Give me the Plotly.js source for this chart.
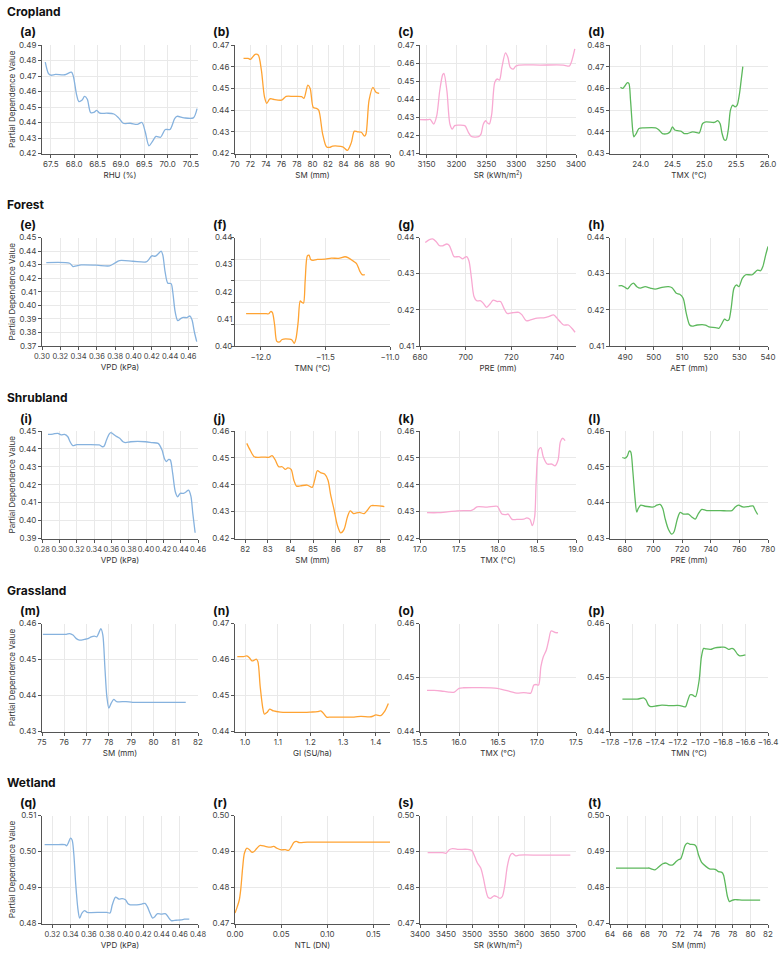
<!DOCTYPE html>
<html><head><meta charset="utf-8">
<script src="https://cdn.plot.ly/plotly-3.0.1.min.js"></script>
<style>html,body{margin:0;padding:0;background:#fff}</style>
</head><body><div id="chart" style="width:781px;height:957px"></div>
<script>
// ---------------- data ----------------
const sections = ['Cropland', 'Forest', 'Shrubland', 'Grassland', 'Wetland'];
const panelLabels = ['(a)','(b)','(c)','(d)','(e)','(f)','(g)','(h)','(i)','(j)','(k)','(l)','(m)','(n)','(o)','(p)','(q)','(r)','(s)','(t)'];
const xTitles = ['RHU (%)','SM (mm)','SR (kWh/m<sup>2</sup>)','TMX (°C)',
                 'VPD (kPa)','TMN (°C)','PRE (mm)','AET (mm)',
                 'VPD (kPa)','SM (mm)','TMX (°C)','PRE (mm)',
                 'SM (mm)','GI (SU/ha)','TMX (°C)','TMN (°C)',
                 'VPD (kPa)','NTL (DN)','SR (kWh/m<sup>2</sup>)','SM (mm)'];
const yTitle = 'Partial Dependence Value';
const cTickVals = [3150, 3200, 3250, 3300, 3350, 3400];
const cTickText = ['3150', '3200', '3250', '3300', '3250', '3400'];
const fTickVals = [0.40, 0.41, 0.42, 0.43, 0.44];
const fGridVals = [0.40, 0.408, 0.416, 0.424, 0.432, 0.44];

const aX = [67.38,67.45,67.5,67.6,67.8,67.94,67.98,68.05,68.1,68.17,68.22,68.28,68.35,68.42,68.48,68.55,68.7,68.85,68.95,69.05,69.2,69.35,69.45,69.52,69.6,69.68,69.75,69.85,69.95,70.05,70.15,70.2,70.35,70.55,70.63];
const aY = [0.479,0.4715,0.4705,0.471,0.4708,0.4725,0.470,0.458,0.4535,0.4545,0.4568,0.455,0.4465,0.4465,0.4478,0.446,0.446,0.4455,0.443,0.4395,0.4395,0.4388,0.440,0.434,0.425,0.428,0.431,0.4305,0.4355,0.4355,0.4425,0.444,0.443,0.443,0.449];

const bX = [71.1,71.7,72.0,72.6,73.0,73.4,73.8,74.1,74.5,74.9,76.0,76.6,77.5,78.6,78.9,79.4,79.7,80.1,80.5,80.8,81.3,81.8,82.2,82.6,83.9,84.5,85.0,85.4,85.8,86.3,86.7,86.9,87.3,87.8,88.2,88.6];
const bY = [0.4638,0.4638,0.4634,0.4657,0.4654,0.4585,0.4462,0.4431,0.4452,0.4450,0.4446,0.4463,0.4463,0.4462,0.4454,0.4515,0.450,0.4412,0.4408,0.440,0.4292,0.4231,0.4228,0.4234,0.4231,0.4214,0.4249,0.4303,0.4300,0.4298,0.428,0.429,0.4446,0.4505,0.4482,0.4477];

const cX = [3139,3153,3156,3162,3167,3172,3177,3179,3184,3189,3193,3197,3203,3214,3220,3225,3237,3241,3245,3249,3252,3255,3259,3264,3268,3272,3276,3282,3286,3290,3295,3299,3304,3340,3379,3385,3389,3393,3398];
const cY = [0.4287,0.4287,0.4289,0.4263,0.4309,0.4447,0.4536,0.4543,0.4447,0.4263,0.4235,0.4254,0.4257,0.4254,0.4217,0.4194,0.4193,0.4207,0.4263,0.4281,0.4268,0.4263,0.4318,0.4493,0.4512,0.4506,0.4576,0.4656,0.4632,0.4576,0.4567,0.4582,0.4589,0.4589,0.4589,0.4584,0.4584,0.4613,0.4678];

const dX = [23.684,23.721,23.753,23.789,23.816,23.842,23.879,23.895,23.932,23.974,24.053,24.237,24.289,24.342,24.421,24.463,24.5,24.537,24.579,24.632,24.684,24.737,24.816,24.868,24.921,24.974,25.026,25.158,25.211,25.247,25.279,25.316,25.342,25.379,25.411,25.447,25.484,25.516,25.553,25.579,25.605];
const dY = [0.4605,0.460,0.4611,0.4626,0.4623,0.4546,0.440,0.4377,0.4392,0.4415,0.4418,0.4418,0.4408,0.4392,0.4392,0.44,0.4423,0.4408,0.4405,0.4403,0.4392,0.4392,0.44,0.4397,0.4395,0.4438,0.4446,0.4443,0.4451,0.4438,0.4392,0.4362,0.4362,0.4415,0.45,0.4523,0.4515,0.4523,0.4577,0.4638,0.47];

const eX = [0.3047,0.3302,0.3338,0.3375,0.3429,0.3593,0.3738,0.3793,0.3847,0.3993,0.4138,0.4164,0.42,0.424,0.4276,0.4302,0.432,0.4345,0.4375,0.4411,0.4429,0.4455,0.4484,0.452,0.4545,0.4582,0.4618,0.464,0.4665,0.4691];
const eY = [0.4315,0.431,0.4286,0.4291,0.4298,0.4296,0.4291,0.431,0.433,0.4325,0.432,0.4335,0.4365,0.4362,0.4384,0.4399,0.4372,0.4249,0.4163,0.416,0.41,0.3953,0.3887,0.3904,0.3911,0.3909,0.3921,0.3892,0.3805,0.3732];

const fX = [-12.114,-11.957,-11.939,-11.924,-11.911,-11.893,-11.876,-11.855,-11.835,-11.779,-11.759,-11.741,-11.728,-11.711,-11.695,-11.683,-11.67,-11.657,-11.64,-11.627,-11.614,-11.596,-11.563,-11.5,-11.454,-11.398,-11.348,-11.322,-11.284,-11.259,-11.234,-11.216,-11.195];
const fY = [0.4119,0.4119,0.4119,0.4127,0.4124,0.4077,0.4017,0.4015,0.4024,0.4025,0.4022,0.401,0.4027,0.4089,0.4166,0.4161,0.4158,0.4239,0.4332,0.4335,0.4319,0.4316,0.4319,0.432,0.4324,0.4323,0.4329,0.4325,0.4313,0.4304,0.4276,0.4263,0.4263];

const gX = [682.3,684.1,685.5,687.0,688.4,689.9,691.7,692.8,693.9,694.9,697.1,698.6,699.6,700.4,701.4,702.5,703.6,704.8,706.5,707.7,709.1,710.6,712.0,713.8,715.2,716.7,718.1,720.3,723.2,724.6,726.4,728.3,731.2,734.1,736.2,738.4,739.9,741.3,742.8,744.9,746.4,747.8];
const gY = [0.4386,0.4394,0.4396,0.4389,0.4378,0.4377,0.4382,0.4378,0.4361,0.4347,0.4347,0.4341,0.4345,0.4347,0.4335,0.4287,0.4237,0.4225,0.4225,0.4218,0.4207,0.4216,0.4227,0.4223,0.4223,0.4204,0.419,0.4192,0.4193,0.4186,0.417,0.4172,0.4177,0.4178,0.4181,0.4186,0.4177,0.4167,0.4158,0.4158,0.4149,0.4138];

const hX = [487.7,488.8,490,490.8,492.0,492.9,494.1,495.3,497.0,498.8,500.5,502.9,505.2,506.4,507.9,509.1,510.3,511.4,512.6,513.4,515.2,518.1,519.3,521.6,522.8,523.6,524.8,525.7,526.3,527.1,528.1,529.0,529.8,531.0,532.2,534.5,536.3,537.4,538.2,539.2,540.0];
const hY = [0.4266,0.4267,0.4262,0.4258,0.4269,0.4274,0.4264,0.426,0.4264,0.426,0.4257,0.4262,0.4264,0.4261,0.4246,0.4243,0.4232,0.419,0.4158,0.4155,0.4158,0.4158,0.4153,0.4151,0.4149,0.4158,0.4174,0.417,0.4172,0.4204,0.426,0.4269,0.4264,0.4287,0.4297,0.4297,0.431,0.4308,0.432,0.4352,0.4375];

const iX = [0.2869,0.2926,0.2983,0.3021,0.306,0.3098,0.3124,0.3155,0.3201,0.3269,0.346,0.3498,0.3518,0.3544,0.3575,0.3594,0.3651,0.3697,0.3735,0.3766,0.3823,0.3995,0.4071,0.414,0.4185,0.4212,0.4235,0.4262,0.4281,0.4308,0.4338,0.4365,0.4395,0.4434,0.4464,0.4491,0.4518,0.454,0.4567];
const iY = [0.4481,0.4483,0.4487,0.4478,0.4481,0.4468,0.444,0.4418,0.4424,0.4424,0.4422,0.4412,0.4416,0.445,0.4483,0.4491,0.4472,0.4459,0.444,0.4435,0.444,0.444,0.4435,0.4431,0.4394,0.4347,0.4329,0.4342,0.4338,0.4263,0.4161,0.4133,0.4152,0.4152,0.4161,0.417,0.4137,0.404,0.3932];

const jX = [82.07,82.22,82.4,82.59,82.81,83.04,83.19,83.33,83.48,83.63,83.78,83.88,84.03,84.15,84.27,84.44,84.74,84.96,85.07,85.19,85.33,85.51,85.66,85.78,85.93,86.07,86.22,86.37,86.52,86.64,86.79,87.04,87.26,87.41,87.56,87.78,88.07,88.15];
const jY = [0.4554,0.4529,0.4504,0.4502,0.4503,0.4502,0.4508,0.4492,0.4467,0.4467,0.4457,0.4463,0.4457,0.4417,0.4395,0.4396,0.4399,0.439,0.4417,0.4452,0.4445,0.444,0.4417,0.4361,0.4306,0.425,0.4221,0.4234,0.4281,0.4303,0.4293,0.4297,0.4293,0.4306,0.4322,0.4322,0.432,0.4319];

const kX = [17.09,17.23,17.35,17.48,17.56,17.65,17.69,17.73,17.86,17.99,18.02,18.05,18.1,18.13,18.18,18.24,18.33,18.37,18.41,18.44,18.47,18.49,18.52,18.55,18.58,18.63,18.69,18.73,18.77,18.8,18.83,18.86];
const kY = [0.4296,0.4296,0.4299,0.4303,0.4304,0.4304,0.4309,0.4318,0.4317,0.432,0.4306,0.4291,0.4289,0.4291,0.4271,0.4271,0.4272,0.4277,0.4271,0.4248,0.4281,0.4417,0.4529,0.4538,0.4504,0.4477,0.4477,0.447,0.4492,0.456,0.4573,0.4564];

const lX = [678.1,680,681.6,683,684,685.4,687,688.2,689.3,691,694,699.9,702.2,704.5,706.4,708,710.4,712.7,714.3,716.7,718.6,720.9,724.4,726.7,729.1,731.4,733.7,737.2,746.6,754.8,757.1,759.4,762.5,766.4,769.5,771.1,772.8];
const lY = [0.4526,0.4524,0.453,0.4544,0.4542,0.4491,0.4412,0.4374,0.4384,0.4393,0.439,0.4388,0.4393,0.4395,0.4384,0.4356,0.4325,0.4312,0.4319,0.4356,0.4373,0.4368,0.4368,0.436,0.4354,0.437,0.4381,0.4378,0.4378,0.4378,0.4388,0.4393,0.4388,0.4389,0.4391,0.4379,0.4367];

const mX = [75.04,75.49,76.09,76.24,76.39,76.54,76.68,76.91,77.06,77.21,77.35,77.46,77.55,77.64,77.73,77.82,77.91,78.0,78.1,78.22,78.35,78.77,79.07,80.26,81.45];
const mY = [0.457,0.457,0.457,0.4572,0.4568,0.4558,0.4554,0.4556,0.4558,0.4563,0.4565,0.4563,0.4574,0.4586,0.4568,0.448,0.4397,0.4365,0.4378,0.4389,0.4383,0.4383,0.4381,0.4381,0.4381];

const nX = [0.976,0.995,1.005,1.013,1.021,1.028,1.034,1.039,1.046,1.054,1.059,1.067,1.075,1.087,1.108,1.169,1.2,1.221,1.231,1.239,1.249,1.262,1.333,1.354,1.385,1.4,1.415,1.426,1.438];
const nY = [0.4608,0.4608,0.461,0.4605,0.4596,0.4598,0.4601,0.4594,0.4525,0.4465,0.4448,0.4453,0.4462,0.4457,0.4454,0.4453,0.4454,0.4455,0.4457,0.4451,0.444,0.444,0.444,0.4442,0.4441,0.4446,0.4444,0.4455,0.4478];

const oX = [15.59,15.68,15.77,15.87,15.94,16.0,16.06,16.49,16.57,16.66,16.74,16.83,16.89,16.92,16.96,16.99,17.02,17.05,17.08,17.12,17.15,17.18,17.21,17.24,17.27];
const oY = [0.4476,0.4476,0.4475,0.4473,0.4473,0.448,0.4481,0.448,0.4477,0.4474,0.4471,0.4472,0.4471,0.4471,0.4486,0.4487,0.4486,0.452,0.4538,0.4551,0.4569,0.4586,0.4585,0.4583,0.4583];

const pX = [-17.69,-17.56,-17.5,-17.48,-17.46,-17.44,-17.4,-17.34,-17.27,-17.18,-17.15,-17.13,-17.11,-17.09,-17.07,-17.05,-17.04,-17.01,-16.99,-16.97,-16.95,-16.91,-16.87,-16.82,-16.78,-16.75,-16.72,-16.7,-16.67,-16.65,-16.6];
const pY = [0.446,0.446,0.4462,0.4458,0.4449,0.4446,0.4447,0.4449,0.4448,0.4448,0.4446,0.4446,0.4458,0.4468,0.4468,0.4465,0.4465,0.4495,0.4538,0.4554,0.4553,0.4552,0.4555,0.4556,0.4556,0.4552,0.4554,0.4552,0.4543,0.454,0.4542];

const qX = [0.3114,0.3229,0.3337,0.3355,0.3373,0.3398,0.3416,0.3434,0.3455,0.3481,0.3499,0.3524,0.3553,0.3581,0.3732,0.3797,0.3833,0.3858,0.3894,0.393,0.3966,0.4002,0.4031,0.4056,0.4128,0.4182,0.4218,0.4243,0.4272,0.4301,0.4326,0.4351,0.4398,0.4445,0.447,0.4506,0.456,0.4614,0.465,0.4704];
const qY = [0.5019,0.5019,0.5019,0.5016,0.5023,0.5037,0.5032,0.4995,0.4912,0.4838,0.4815,0.4829,0.4836,0.4831,0.4831,0.4831,0.4829,0.4852,0.4873,0.4868,0.4869,0.4866,0.4855,0.4852,0.4852,0.4854,0.4856,0.4847,0.4829,0.4815,0.4819,0.4827,0.4826,0.4827,0.4819,0.4808,0.4809,0.481,0.4812,0.4812];

const rX = [0.0,0.0025,0.0047,0.0062,0.0084,0.0102,0.0127,0.0157,0.0182,0.0207,0.0237,0.0273,0.0328,0.0382,0.0419,0.0455,0.0491,0.0546,0.0582,0.0612,0.0637,0.0666,0.0692,0.0783,0.1074,0.1682];
const rY = [0.4729,0.4747,0.4766,0.4794,0.4858,0.4895,0.4909,0.4905,0.4898,0.49,0.4909,0.4917,0.4914,0.4912,0.4914,0.4909,0.4905,0.4905,0.4903,0.4914,0.4925,0.4928,0.4925,0.4926,0.4926,0.4926];

const sX = [3414.7,3433.8,3443.4,3449.8,3456.2,3462.5,3472.1,3491.3,3499.6,3505.3,3510.4,3516.8,3521.9,3526.4,3530.8,3535.9,3542.3,3547.4,3553.8,3558.3,3562.7,3567.8,3573,3577.4,3583.8,3590.2,3631.6,3689.1];
const sY = [0.4897,0.4897,0.4897,0.4895,0.4905,0.4908,0.4906,0.4906,0.4903,0.4886,0.4868,0.4854,0.4826,0.4794,0.4773,0.477,0.4777,0.4775,0.477,0.4775,0.4803,0.4858,0.4888,0.4895,0.4888,0.489,0.489,0.489];

const tX = [64.68,66.66,68.18,68.49,68.75,69.13,69.51,70.01,70.39,70.77,71.15,71.53,71.79,72.06,72.29,72.56,72.82,73.13,73.58,73.81,74.08,74.46,74.95,75.33,75.79,76.09,76.36,76.74,76.93,77.12,77.38,77.61,77.88,78.14,78.45,79.21,81.11];
const tY = [0.4854,0.4854,0.4854,0.4854,0.4851,0.4849,0.4856,0.4866,0.4868,0.4863,0.4863,0.4872,0.4877,0.488,0.4895,0.4917,0.4923,0.492,0.4919,0.4914,0.4891,0.4869,0.4858,0.4852,0.4851,0.4849,0.4844,0.4842,0.4835,0.4812,0.4775,0.4761,0.4764,0.4766,0.4766,0.4765,0.4765];

const seriesX = [aX,bX,cX,dX,eX,fX,gX,hX,iX,jX,kX,lX,mX,nX,oX,pX,qX,rX,sX,tX];
const seriesY = [aY,bY,cY,dY,eY,fY,gY,hY,iY,jY,kY,lY,mY,nY,oY,pY,qY,rY,sY,tY];

// ---------------- axis settings (layout, not data) ----------------
const xAxisSpec = [
  {r:[67.31,70.65], d:0.5, t0:67.5, f:'.1f'}, {r:[70,90], d:2, t0:70, f:'d'}, {r:[3139,3400], custom:'c'}, {r:[23.52,26.0], d:0.5, t0:24, f:'.1f'},
  {r:[0.30,0.4705], d:0.02, t0:0.30, f:'.2f'}, {r:[-12.2,-11.0], d:0.5, t0:-12, f:'.1f'}, {r:[680,748.2], d:20, t0:680, f:'d'}, {r:[484.7,540], d:10, t0:490, f:'d'},
  {r:[0.28,0.46], d:0.02, t0:0.28, f:'.2f'}, {r:[81.55,88.4], d:1, t0:82, f:'d'}, {r:[17,19], d:0.5, t0:17, f:'.1f'}, {r:[669.5,780], d:20, t0:680, f:'d'},
  {r:[75,82], d:1, t0:75, f:'d'}, {r:[0.969,1.443], d:0.1, t0:1.0, f:'.1f'}, {r:[15.5,17.5], d:0.5, t0:15.5, f:'.1f'}, {r:[-17.8,-16.4], d:0.2, t0:-17.8, f:'.1f'},
  {r:[0.3085,0.48], d:0.02, t0:0.32, f:'.2f'}, {r:[0,0.168], d:0.05, t0:0, f:'.2f'}, {r:[3400,3700], d:50, t0:3400, f:'d'}, {r:[64,82], d:2, t0:64, f:'d'}
];
const yAxisSpec = [
  [0.42,0.49],[0.42,0.47],[0.41,0.47],[0.43,0.48],
  [0.37,0.45],[0.40,0.44],[0.41,0.44],[0.41,0.44],
  [0.39,0.45],[0.42,0.46],[0.42,0.46],[0.43,0.46],
  [0.43,0.46],[0.44,0.47],[0.44,0.46],[0.44,0.46],
  [0.48,0.51],[0.47,0.50],[0.47,0.50],[0.47,0.50]
];
const colors = ['#86b2de', '#ffa332', '#f8a9d2', '#5cb85c'];

const W = 781, H = 957;
const colPx = [[42,198],[235,390],[420,576],[610,768]];
const rowPx = [[45,153.5],[237.5,346],[431,538.5],[623.5,731.5],[815.5,923.5]];
const FONT = 'Inter, "Liberation Sans", Arial, sans-serif';

const traces = [];
const layout = {
  width: W, height: H,
  margin: {l:0, r:0, t:0, b:0},
  paper_bgcolor: '#ffffff', plot_bgcolor: '#ffffff',
  showlegend: false,
  font: {family: FONT, size: 8, color: '#333'},
  annotations: []
};

const baseAxis = {
  showgrid: true, gridcolor: '#e9e9e9', gridwidth: 1,
  zeroline: false, showline: true, linecolor: '#555', linewidth: 1,
  ticks: 'outside', ticklen: 3, tickwidth: 1, tickcolor: '#555',
  tickangle: 0,
  tickfont: {family: FONT, size: 8, color: '#444'},
  automargin: false, fixedrange: true
};

for (let i = 0; i < 20; i++) {
  const r = Math.floor(i / 4), c = i % 4;
  const s = i === 0 ? '' : String(i + 1);
  const [x0, x1] = colPx[c];
  const [yt, yb] = rowPx[r];
  const xs = xAxisSpec[i];
  const xa = Object.assign({}, baseAxis, {
    domain: [x0 / W, x1 / W], range: xs.r, anchor: 'y' + s,
    title: {text: xTitles[i], font: {family: FONT, size: 8, color: '#333'}, standoff: 4}
  });
  if (xs.custom === 'c') {
    xa.tickmode = 'array'; xa.tickvals = cTickVals; xa.ticktext = cTickText;
  } else {
    xa.tickmode = 'linear'; xa.dtick = xs.d; xa.tick0 = xs.t0; xa.tickformat = xs.f;
  }
  if (xs.f === '.2f' && xs.d === 0.02) {
    xa.tickfont = {family: FONT, size: 7.5, color: '#444'};
  }
  const ya = Object.assign({}, baseAxis, {
    domain: [1 - yb / H, 1 - yt / H], range: yAxisSpec[i], anchor: 'x' + s,
    tickmode: 'linear', dtick: 0.01, tick0: 0, tickformat: '.2f'
  });
  if (i === 5) {
    ya.tickmode = 'array'; ya.tickvals = fTickVals;
    ya.showgrid = false; ya.ticks = '';
    ya.minor = {tickmode: 'array', tickvals: fGridVals, showgrid: true, gridcolor: '#e9e9e9', gridwidth: 1, ticks: 'outside', ticklen: 3, tickcolor: '#555'};
  }
  if (c === 0) {
    ya.title = {text: yTitle, font: {family: FONT, size: 8, color: '#333'}, standoff: 2};
  }
  layout['xaxis' + s] = xa;
  layout['yaxis' + s] = ya;

  traces.push({
    type: 'scatter', mode: 'lines',
    x: seriesX[i], y: seriesY[i],
    xaxis: 'x' + s, yaxis: 'y' + s,
    line: {color: colors[c], width: 1.3, shape: 'spline', smoothing: 0.8},
    hoverinfo: 'skip'
  });

  layout.annotations.push({
    text: '<b>' + panelLabels[i] + '</b>', xref: 'paper', yref: 'paper',
    x: (x0 - 24) / W, y: 1 - (yt - 13) / H, xanchor: 'left', yanchor: 'middle',
    showarrow: false, font: {family: FONT, size: 12, color: '#111'}
  });
}

sections.forEach((name, r) => {
  layout.annotations.push({
    text: '<b>' + name + '</b>', xref: 'paper', yref: 'paper',
    x: 5 / W, y: 1 - (rowPx[r][0] - 33.5) / H, xanchor: 'left', yanchor: 'middle',
    showarrow: false, font: {family: FONT, size: 12, color: '#111'}
  });
});

Plotly.newPlot('chart', traces, layout, {staticPlot: true, displayModeBar: false});
</script>
</body></html>
